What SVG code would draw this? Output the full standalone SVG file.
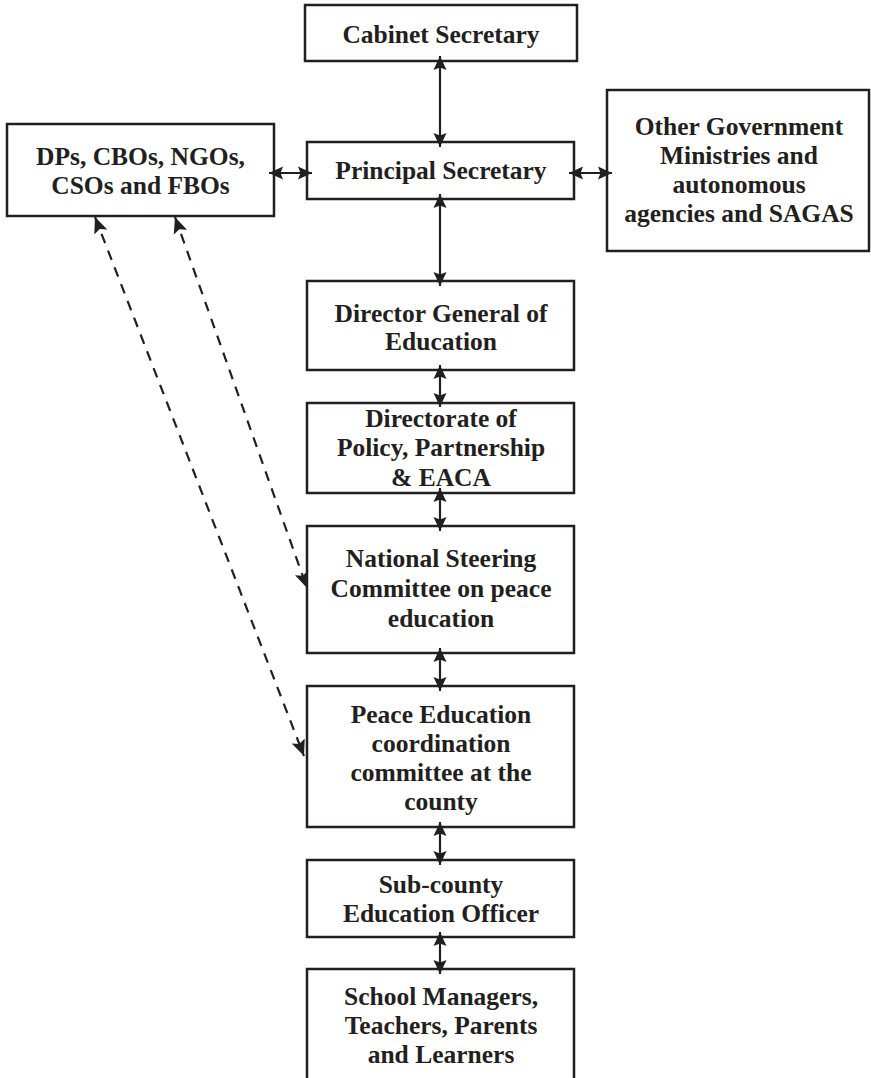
<svg xmlns="http://www.w3.org/2000/svg" width="871" height="1078" viewBox="0 0 871 1078">
<style>
.box{fill:#fff;stroke:#231f20;stroke-width:2.5}
.t{font-family:"Liberation Serif","Times New Roman",serif;font-weight:bold;font-size:25.5px;fill:#231f20;text-anchor:middle}
.c{fill:none;stroke:#231f20;stroke-width:2.2}
.d{fill:none;stroke:#231f20;stroke-width:2.2;stroke-dasharray:10 8}
</style>
<defs>
<marker id="ah" viewBox="0 -7 14 14" refX="14" refY="0" markerWidth="14" markerHeight="14" markerUnits="userSpaceOnUse" orient="auto-start-reverse">
<path d="M0,-6.5 L14,0 L0,6.5 L2.5,0 z" fill="#231f20"/>
</marker>
<marker id="dh" viewBox="0 -8 16 16" refX="16" refY="0" markerWidth="16" markerHeight="16" markerUnits="userSpaceOnUse" orient="auto-start-reverse">
<path d="M0,-7 L16,0 L0,7 L3,0 z" fill="#231f20"/>
</marker>
</defs>
<rect width="871" height="1078" fill="#fff"/>
<g id="cabinet">
<rect class="box" x="305" y="5" width="272" height="56"/>
<text class="t" x="441" y="43">Cabinet Secretary</text>
</g>
<g id="principal">
<rect class="box" x="307" y="142" width="267" height="57"/>
<text class="t" x="441" y="179">Principal Secretary</text>
</g>
<g id="dps">
<rect class="box" x="7" y="124" width="267" height="92"/>
<text class="t" x="140.5" y="165">DPs, CBOs, NGOs,</text>
<text class="t" x="140.5" y="194">CSOs and FBOs</text>
</g>
<g id="othergov">
<rect class="box" x="607" y="90" width="262" height="161"/>
<text class="t" x="739" y="135">Other Government</text>
<text class="t" x="739" y="164">Ministries and</text>
<text class="t" x="739" y="193">autonomous</text>
<text class="t" x="739" y="222">agencies and SAGAS</text>
</g>
<g id="dg">
<rect class="box" x="307" y="281" width="267" height="89"/>
<text class="t" x="441" y="322">Director General of</text>
<text class="t" x="441" y="350">Education</text>
</g>
<g id="directorate">
<rect class="box" x="307" y="403" width="267" height="90"/>
<text class="t" x="441" y="427">Directorate of</text>
<text class="t" x="441" y="456">Policy, Partnership</text>
<text class="t" x="441" y="486">&amp; EACA</text>
</g>
<g id="nsc">
<rect class="box" x="307" y="526" width="267" height="127"/>
<text class="t" x="441" y="567">National Steering</text>
<text class="t" x="441" y="597">Committee on peace</text>
<text class="t" x="441" y="627">education</text>
</g>
<g id="peace">
<rect class="box" x="307" y="686" width="267" height="141"/>
<text class="t" x="441" y="723">Peace Education</text>
<text class="t" x="441" y="752">coordination</text>
<text class="t" x="441" y="781">committee at the</text>
<text class="t" x="441" y="810">county</text>
</g>
<g id="subcounty">
<rect class="box" x="307" y="860" width="267" height="77"/>
<text class="t" x="441" y="893">Sub-county</text>
<text class="t" x="441" y="922">Education Officer</text>
</g>
<g id="school">
<rect class="box" x="307" y="969" width="267" height="120"/>
<text class="t" x="441" y="1005">School Managers,</text>
<text class="t" x="441" y="1034">Teachers, Parents</text>
<text class="t" x="441" y="1063">and Learners</text>
</g>
<g id="connectors">
<line class="c" x1="440" y1="56" x2="440" y2="147" marker-start="url(#ah)" marker-end="url(#ah)"/>
<line class="c" x1="440" y1="194" x2="440" y2="286" marker-start="url(#ah)" marker-end="url(#ah)"/>
<line class="c" x1="440" y1="365" x2="440" y2="407" marker-start="url(#ah)" marker-end="url(#ah)"/>
<line class="c" x1="440" y1="488" x2="440" y2="531" marker-start="url(#ah)" marker-end="url(#ah)"/>
<line class="c" x1="440" y1="648" x2="440" y2="691" marker-start="url(#ah)" marker-end="url(#ah)"/>
<line class="c" x1="440" y1="822" x2="440" y2="865" marker-start="url(#ah)" marker-end="url(#ah)"/>
<line class="c" x1="440" y1="932" x2="440" y2="974" marker-start="url(#ah)" marker-end="url(#ah)"/>
<line class="c" x1="269" y1="173" x2="312" y2="173" marker-start="url(#ah)" marker-end="url(#ah)"/>
<line class="c" x1="569" y1="173" x2="612" y2="173" marker-start="url(#ah)" marker-end="url(#ah)"/>
<line class="d" x1="95" y1="217" x2="304" y2="756" marker-start="url(#dh)" marker-end="url(#dh)"/>
<line class="d" x1="175" y1="217" x2="307" y2="588" marker-start="url(#dh)" marker-end="url(#dh)"/>
</g>
</svg>
